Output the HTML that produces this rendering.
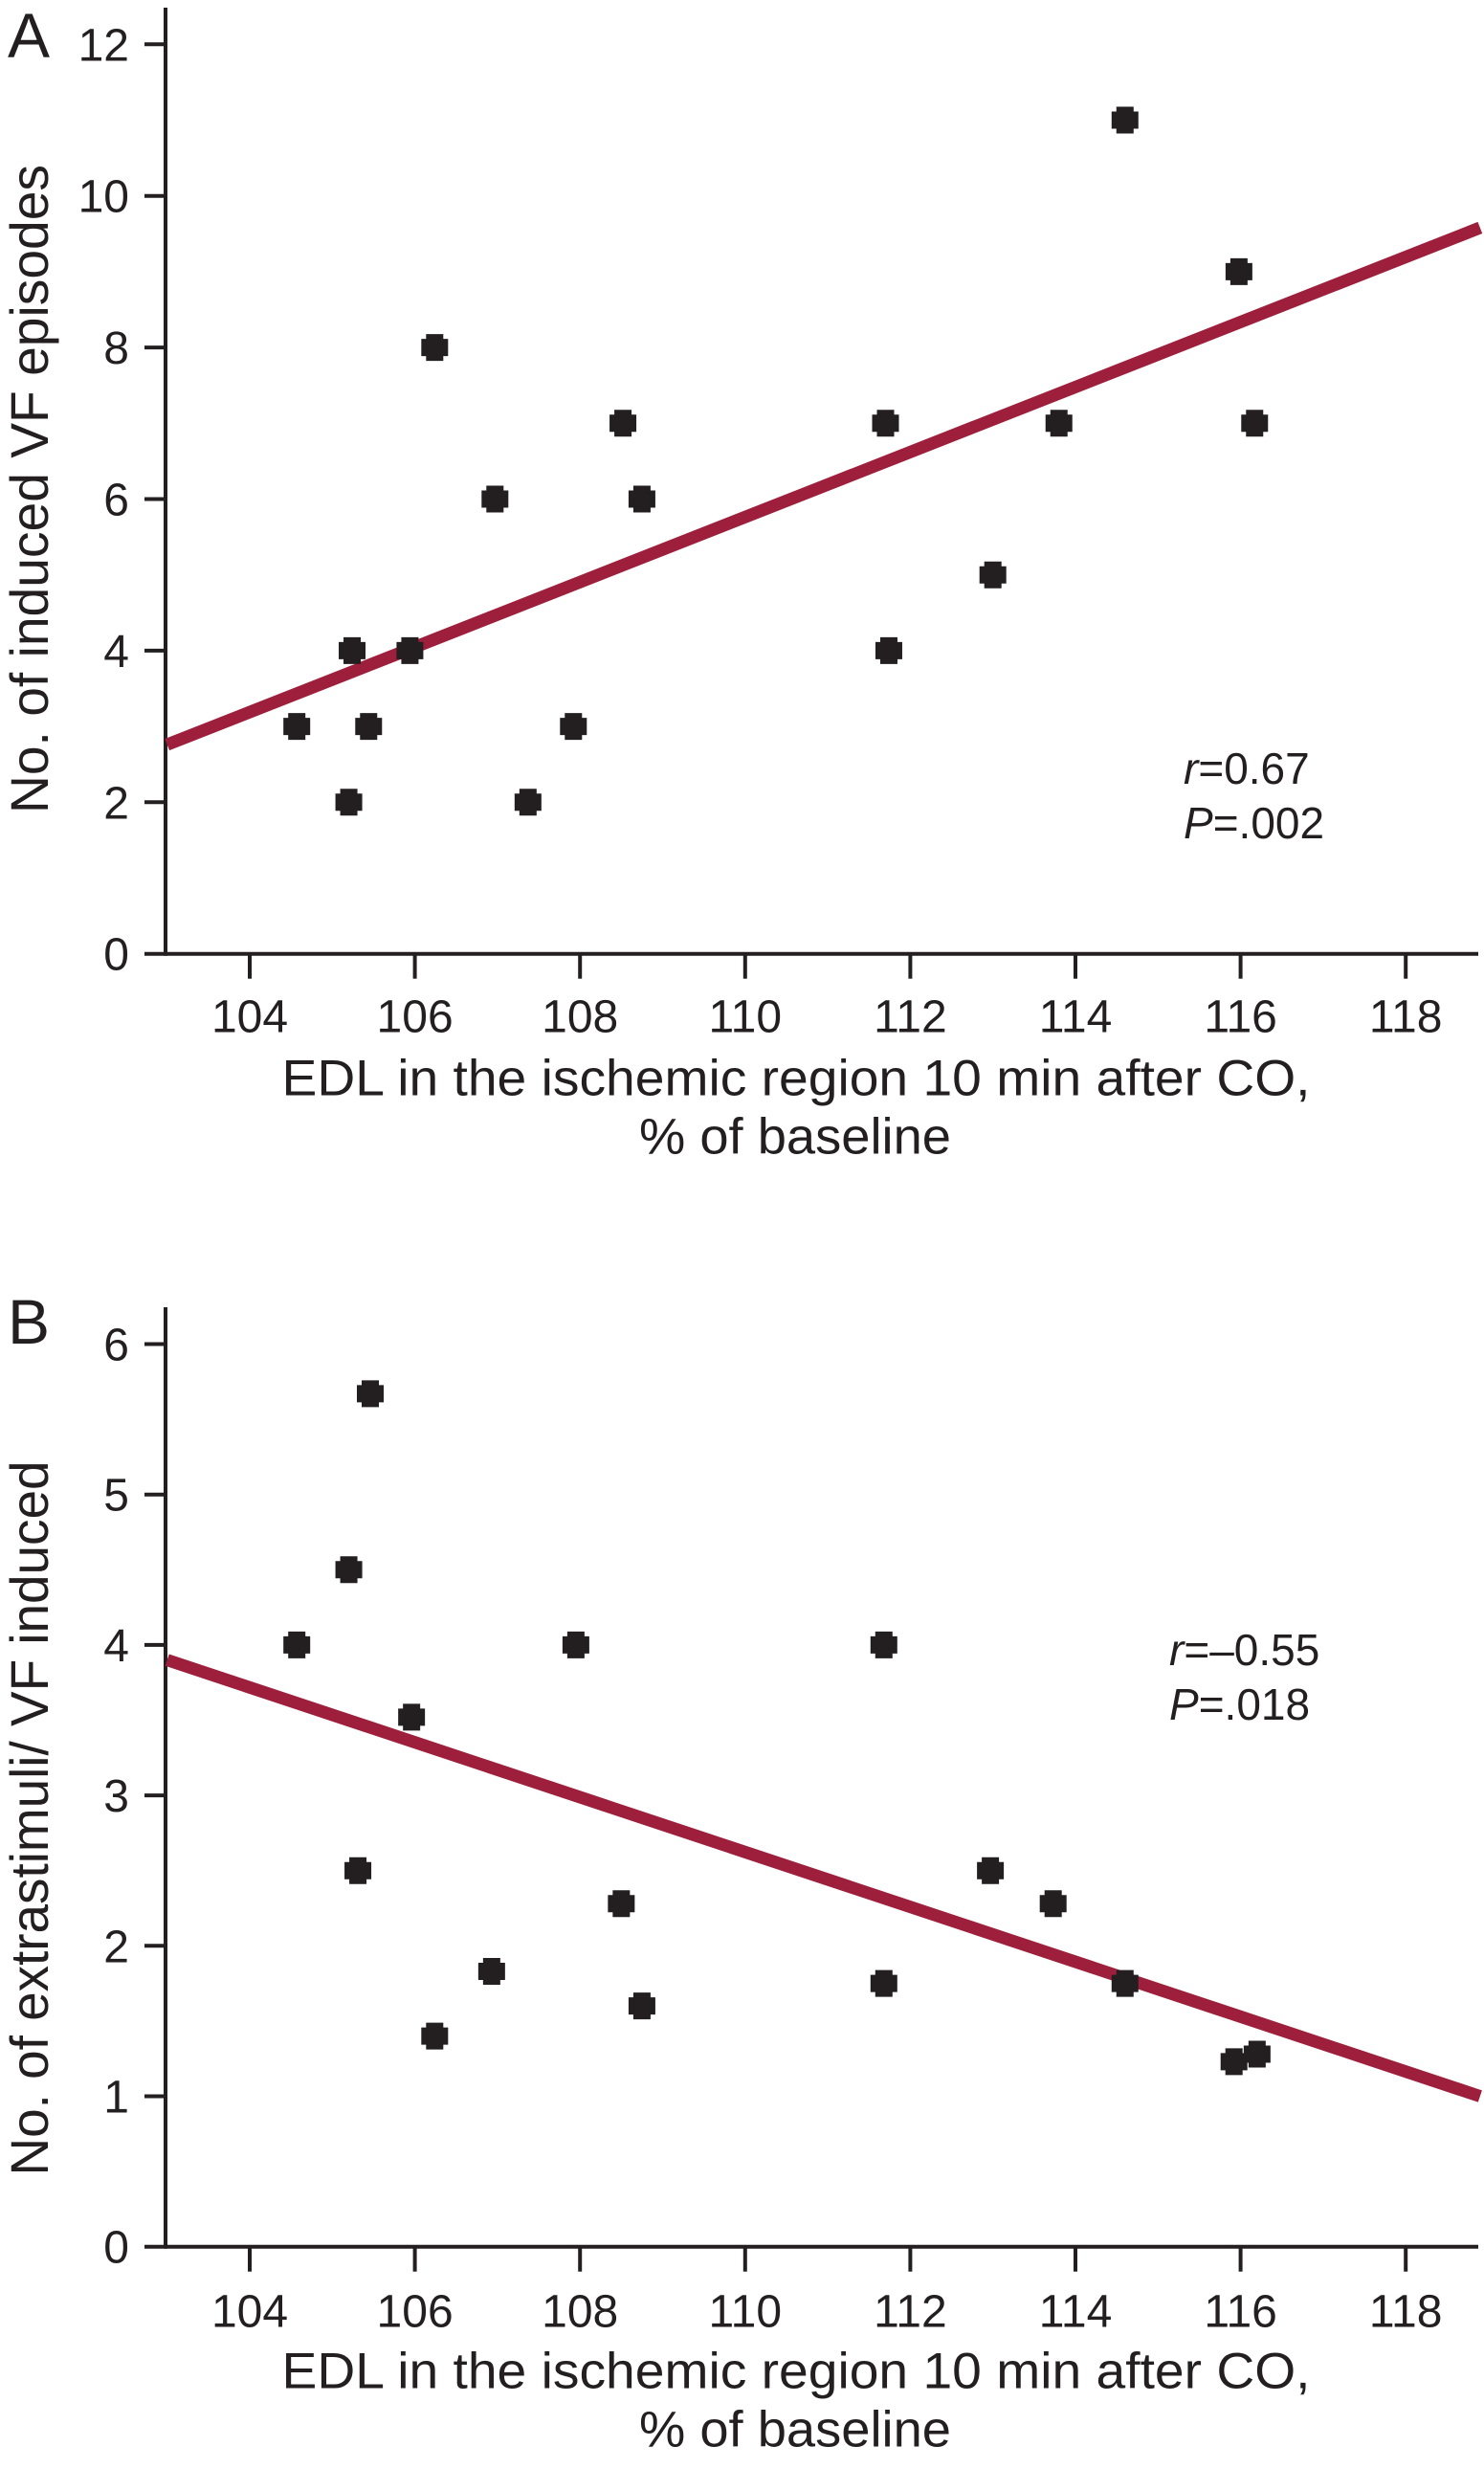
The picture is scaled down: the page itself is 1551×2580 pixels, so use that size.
<!DOCTYPE html>
<html><head><meta charset="utf-8"><style>
html,body{margin:0;padding:0;background:#fff;}
svg{display:block;}
text{font-family:"Liberation Sans",Arial,sans-serif;fill:#231f20;}
</style></head><body>
<svg id="chart" width="1551" height="2580" viewBox="0 0 1551 2580" xmlns="http://www.w3.org/2000/svg"></svg>
<script>
const xTicks = [104,106,108,110,112,114,116,118];
const aYTicks = [0,2,4,6,8,10,12];
const bYTicks = [0,1,2,3,4,5,6];
const aX = [104.57,105.2,105.24,105.44,105.94,106.24,106.97,107.37,107.92,108.52,108.75,111.7,111.74,113.0,113.8,114.6,115.98,116.17];
const aY = [3,2,4,3,4,8,6,2,3,7,6,7,4,5,7,11,9,7];
const bX = [104.57,105.2,105.46,105.31,105.96,106.24,106.93,107.95,108.5,108.75,111.68,111.68,112.97,113.73,114.6,115.92,116.2];
const bY = [4.0,4.5,5.67,2.5,3.52,1.4,1.83,4.0,2.28,1.6,4.0,1.75,2.5,2.28,1.75,1.23,1.28];
const aFitX = [103,118.9];
const aFitY = [2.76,9.58];
const bFitX = [103,118.9];
const bFitY = [3.9,1.0];

const svg = document.getElementById('chart');
const NS = 'http://www.w3.org/2000/svg';
function mk(tag, attrs, parent){
  const e = document.createElementNS(NS, tag);
  for (const k in attrs) e.setAttribute(k, attrs[k]);
  (parent||svg).appendChild(e);
  return e;
}
const xs = v => 261 + (v-104)*86.3;

function panel(cfg){
  const g = mk('g', {});
  
  
  const ys = v => cfg.y0 - v*cfg.unit;
  const col = '#231f20';
  const ya = mk('line', {x1:173,y1:cfg.top,x2:173,y2:cfg.y0+2,stroke:col,'stroke-width':4}, g);
  
  
  const xa = mk('line', {x1:151,y1:cfg.y0,x2:1545,y2:cfg.y0,stroke:col,'stroke-width':4}, g);
  
  
  cfg.yTicks.forEach(t => {
    const y = ys(t);
    if (t !== 0) {
      const tk = mk('line', {x1:151,y1:y,x2:173,y2:y,stroke:col,'stroke-width':4}, g);
      
      
    }
    const tl = mk('text', {x:135,y:y+17,'font-size':48,'text-anchor':'end'}, g);
    tl.textContent = t;
    
    
  });
  xTicks.forEach(t => {
    const x = xs(t);
    const tk = mk('line', {x1:x,y1:cfg.y0,x2:x,y2:cfg.y0+26,stroke:col,'stroke-width':4}, g);
    
    
    const tl = mk('text', {x:x,y:cfg.y0+cfg.tickDy,'font-size':48,'text-anchor':'middle'}, g);
    tl.textContent = t;
    
    
  });
  const fl = mk('line', {x1:xs(cfg.fitX[0]),y1:ys(cfg.fitY[0]),x2:xs(cfg.fitX[1]),y2:ys(cfg.fitY[1]),stroke:'#9e1f3c','stroke-width':13}, g);
  
  
  cfg.px.forEach((v,i) => {
    const cx = xs(v), cy = ys(cfg.py[i]);
    const p = mk('path', {d:`M${cx-9},${cy-14}h18v5h5v18h-5v5h-18v-5h-5v-18h5z`, fill:col}, g);
    
    
  });
  const lt = mk('text', {x:8,y:cfg.letterY,'font-size':66}, g);
  lt.textContent = cfg.letter;
  
  
  const yt = mk('text', {x:0,y:0,'font-size':56,'text-anchor':'middle',textLength:cfg.ytLen,lengthAdjust:'spacingAndGlyphs',transform:`translate(50,${cfg.ytC}) rotate(-90)`}, g);
  yt.textContent = cfg.yTitle;
  
  
  const x1 = mk('text', {x:832,y:cfg.y0+cfg.t1Dy,'font-size':53,'text-anchor':'middle',textLength:1075,lengthAdjust:'spacingAndGlyphs'}, g);
  x1.textContent = 'EDL in the ischemic region 10 min after CO,';
  
  
  const x2 = mk('text', {x:831,y:cfg.y0+cfg.t1Dy+61,'font-size':53,'text-anchor':'middle',textLength:326,lengthAdjust:'spacingAndGlyphs'}, g);
  x2.textContent = '% of baseline';
  
  
  const r = mk('text', {x:cfg.annX,y:cfg.annY,'font-size':46}, g);
  r.innerHTML = '<tspan font-style="italic">r</tspan>=' + cfg.rTxt;
  
  
  const pp = mk('text', {x:cfg.annX,y:cfg.annY+57,'font-size':46}, g);
  pp.innerHTML = '<tspan font-style="italic">P</tspan>=' + cfg.pTxt;
  
  
}

panel({name:'panel-a', letter:'A', letterY:60, top:8, y0:996.7, unit:79.2, yTicks:aYTicks,
  px:aX, py:aY, fitX:aFitX, fitY:aFitY, tickDy:82, t1Dy:148,
  yTitle:'No. of induced VF episodes', ytLen:678, ytC:511,
  annX:1237, annY:819, rTxt:'0.67', pTxt:'.002'});
panel({name:'panel-b', letter:'B', letterY:1404, top:1366, y0:2347.7, unit:157.2, yTicks:bYTicks,
  px:bX, py:bY, fitX:bFitX, fitY:bFitY, tickDy:84, t1Dy:148,
  yTitle:'No. of extrastimuli/ VF induced', ytLen:747, ytC:1900,
  annX:1222, annY:1740, rTxt:'\u20130.55', pTxt:'.018'});
</script>
</body></html>
